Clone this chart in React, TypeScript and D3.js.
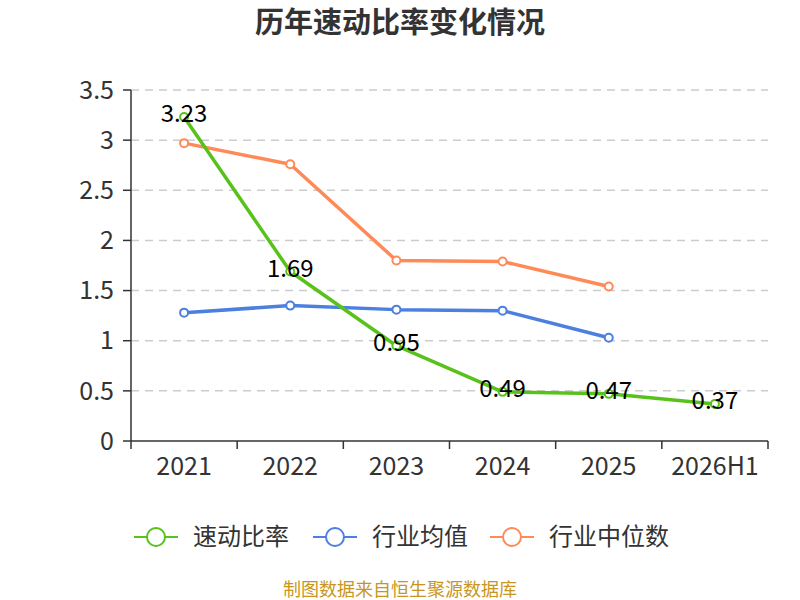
import * as d3 from 'd3'
import React from 'react'

const categories = ['2021', '2022', '2023', '2024', '2025', '2026H1']
const quickRatio = [3.23, 1.69, 0.95, 0.49, 0.47, 0.37]
const industryAvg = [1.28, 1.35, 1.31, 1.30, 1.03]
const industryMedian = [2.97, 2.76, 1.80, 1.79, 1.54]
const yTicks = [0, 0.5, 1, 1.5, 2, 2.5, 3, 3.5]

const seriesNames = ['速动比率', '行业均值', '行业中位数']
const colors = ['#58c21b', '#4b7fe0', '#ff8a57']
const font = '"Noto Sans CJK SC", "Noto Sans", sans-serif'

const width = 800
const height = 600
const left = 131
const right = 768
const top = 90
const bottom = 441

export default function App() {
    const x = d3.scaleBand<string>().domain(categories).range([left, right])
    const y = d3.scaleLinear().domain([0, 3.5]).range([bottom, top])
    const cx = (c: string) => (x(c) as number) + x.bandwidth() / 2
    const line = d3.line<number>()
        .x((d, i) => cx(categories[i]))
        .y(d => y(d))

    const series = [quickRatio, industryAvg, industryMedian]
    const legendX = [134, 313, 490]

    return (
        <div style={{ position: 'absolute', left: 0, top: 0 }}>
            <svg width={width} height={height} style={{ display: 'block' }} fontFamily={font}>
                <text x={400} y={23} dy="0.35em" textAnchor="middle" fontSize={29} fontWeight="bold" fill="#333">历年速动比率变化情况</text>

                {yTicks.filter(t => t > 0).map(t => (
                    <line key={t} x1={left} x2={right} y1={y(t)} y2={y(t)} stroke="#ccc" strokeDasharray="8 6" strokeWidth={1.5} />
                ))}
                {yTicks.map(t => (
                    <g key={t}>
                        <line x1={left - 8} x2={left} y1={y(t)} y2={y(t)} stroke="#333" strokeWidth={1.5} />
                        <text x={left - 17} y={y(t)} dy="0.35em" textAnchor="end" fontSize={25} fill="#333">{t}</text>
                    </g>
                ))}
                <line x1={left} x2={left} y1={top} y2={bottom} stroke="#333" strokeWidth={1.5} />
                <line x1={left} x2={right} y1={bottom} y2={bottom} stroke="#333" strokeWidth={1.5} />
                {[...categories.map(c => x(c) as number), right].map((p, i) => (
                    <line key={i} x1={p} x2={p} y1={bottom} y2={bottom + 8} stroke="#333" strokeWidth={1.5} />
                ))}
                {categories.map(c => (
                    <text key={c} x={cx(c)} y={466} dy="0.35em" textAnchor="middle" fontSize={25} fill="#333">{c}</text>
                ))}

                {[2, 1, 0].map(si => (
                    <g key={si}>
                        <path d={line(series[si]) || ''} fill="none" stroke={colors[si]} strokeWidth={3.5} strokeLinejoin="round" />
                        {series[si].map((v, i) => (
                            <circle key={i} cx={cx(categories[i])} cy={y(v)} r={4} fill="#fff" stroke={colors[si]} strokeWidth={2} />
                        ))}
                    </g>
                ))}
                {quickRatio.map((v, i) => (
                    <text key={i} x={cx(categories[i])} y={y(v) - 3} dy="0.35em" textAnchor="middle" fontSize={24} fill="#000">{v}</text>
                ))}

                {seriesNames.map((n, i) => (
                    <g key={n}>
                        <line x1={legendX[i]} x2={legendX[i] + 44} y1={537} y2={537} stroke={colors[i]} strokeWidth={2} />
                        <circle cx={legendX[i] + 22} cy={537} r={9} fill="#fff" stroke={colors[i]} strokeWidth={2} />
                        <text x={legendX[i] + 59} y={537} dy="0.35em" fontSize={24} fill="#333">{n}</text>
                    </g>
                ))}

                <text x={400} y={590} dy="0.35em" textAnchor="middle" fontSize={18} fill="#c8961e">制图数据来自恒生聚源数据库</text>
            </svg>
        </div>
    )
}
